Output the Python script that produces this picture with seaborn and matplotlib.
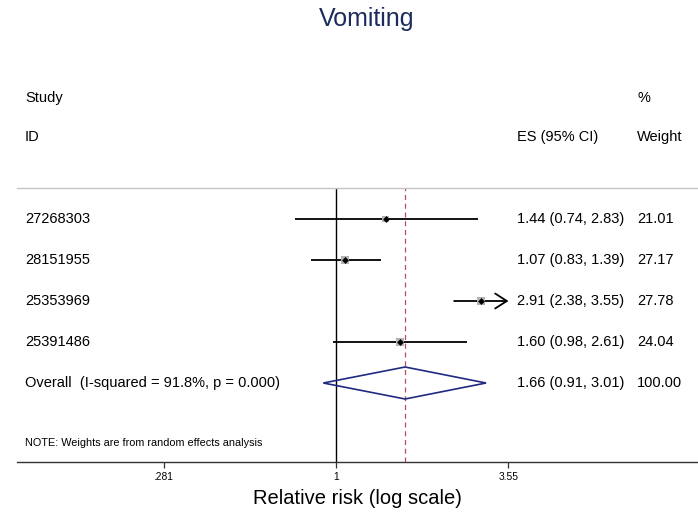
import numpy as np
import pandas as pd
import matplotlib
matplotlib.use("Agg")
import matplotlib.pyplot as plt
import matplotlib.transforms as mtransforms
from matplotlib.patches import Polygon
import seaborn as sns

study_ids = ["27268303", "28151955", "25353969", "25391486"]
es = [1.44, 1.07, 2.91, 1.60]
ci_low = [0.74, 0.83, 2.38, 0.98]
ci_high = [2.83, 1.39, 3.55, 2.61]
weights = [21.01, 27.17, 27.78, 24.04]

overall_es = 1.66
overall_low = 0.91
overall_high = 3.01
i_squared = 91.8
p_het = 0.000

tick_values = [0.281, 1, 3.55]
tick_labels = [".281", "1", "3.55"]

title = "Vomiting"
xlabel = "Relative risk (log scale)"
note = "NOTE: Weights are from random effects analysis"

sns.set_theme(style="white")
plt.rcParams["font.family"] = ["Liberation Sans", "DejaVu Sans"]
plt.rcParams["text.color"] = "black"
plt.rcParams["axes.labelcolor"] = "black"
plt.rcParams["xtick.color"] = "black"

W, H = 698, 515
fig = plt.figure(figsize=(W / 100, H / 100), dpi=100)

# area do grafico: da linha cinza (y=188) ao eixo (y=462)
ax_left, ax_right, ax_top, ax_bot = 17, 698, 188, 462
ax = fig.add_axes([ax_left / W, 1 - ax_bot / H, (ax_right - ax_left) / W, (ax_bot - ax_top) / H])

row0, row_step = 219, 41
def row_of(py):
    return (py - row0) / row_step

ax.set_xscale("log")
ax.set_xlim(0.0957, 14.3)
ax.set_ylim(row_of(ax_bot), row_of(ax_top))

df = pd.DataFrame({"id": study_ids, "es": es, "lo": ci_low, "hi": ci_high, "w": weights})
df["row"] = np.arange(len(df))
overall_row = len(df)

# linha de nulidade e linha do efeito combinado
ax.axvline(1, color="black", lw=1.0, zorder=1)
ax.axvline(overall_es, color="#b0505e", lw=0.9, ls=(0, (4, 3)), zorder=1)

# intervalos de confianca
max_tick = max(tick_values)
for _, r in df.iterrows():
    if r["hi"] >= max_tick:
        ax.annotate("", xy=(r["hi"], r["row"]), xytext=(r["lo"], r["row"]),
                    arrowprops=dict(arrowstyle="->,head_length=0.7,head_width=0.45",
                                    color="black", lw=1.3, shrinkA=0, shrinkB=0))
    else:
        ax.hlines(r["row"], r["lo"], r["hi"], color="black", lw=1.3, zorder=2)

# caixas de peso + ponto central
sns.scatterplot(data=df, x="es", y="row", size="w", sizes=(25, 33), marker="s",
                color="#b3b3b3", linewidth=0, legend=False, ax=ax, zorder=3)
sns.scatterplot(data=df, x="es", y="row", marker="D", s=12, color="black",
                linewidth=0, legend=False, ax=ax, zorder=4)

# diamante do efeito combinado
h = 16 / row_step
diamond = Polygon([(overall_low, overall_row), (overall_es, overall_row - h),
                   (overall_high, overall_row), (overall_es, overall_row + h)],
                  closed=True, fill=False, edgecolor="#1f2a80", lw=1.2, zorder=3)
ax.add_patch(diamond)

# eixos
for s in ["left", "right"]:
    ax.spines[s].set_visible(False)
ax.spines["top"].set_color("#c4c4c4")
ax.spines["top"].set_linewidth(1.0)
ax.spines["bottom"].set_color("#333333")
ax.spines["bottom"].set_linewidth(1.0)
ax.set_yticks([])
ax.set_xticks(tick_values)
ax.set_xticklabels(tick_labels)
ax.xaxis.set_minor_locator(matplotlib.ticker.NullLocator())
ax.tick_params(axis="x", bottom=True, direction="out", length=4.3, width=0.9,
               color="#333333", labelsize=7.4, pad=3.2)
ax.set_xlabel(xlabel, fontsize=14.5, labelpad=5)
ax.set_ylabel("")

# colunas de texto
trans = mtransforms.blended_transform_factory(fig.transFigure, ax.transData)
x_id, x_es, x_wt = 25 / W, 517 / W, 637 / W
fs = 10.5
txt = dict(transform=trans, fontsize=fs, va="center", ha="left", clip_on=False)

ax.text(x_id, row_of(98), "Study", **txt)
ax.text(x_id, row_of(137), "ID", **txt)
ax.text(x_wt, row_of(98), "%", **txt)
ax.text(x_wt, row_of(137), "Weight", **txt)
ax.text(x_es, row_of(137), "ES (95% CI)", **txt)

for _, r in df.iterrows():
    ax.text(x_id, r["row"], r["id"], **txt)
    ax.text(x_es, r["row"], f"{r['es']:.2f} ({r['lo']:.2f}, {r['hi']:.2f})", **txt)
    ax.text(x_wt, r["row"], f"{r['w']:.2f}", **txt)

ax.text(x_id, overall_row, f"Overall  (I-squared = {i_squared:.1f}%, p = {p_het:.3f})", **txt)
ax.text(x_es, overall_row, f"{overall_es:.2f} ({overall_low:.2f}, {overall_high:.2f})", **txt)
ax.text(x_wt, overall_row, f"{sum(weights):.2f}", **txt)

ax.text(x_id, row_of(443), note, transform=trans, fontsize=7.8, va="center", ha="left")

fig.text(367 / W, 1 - 19 / H, title, fontsize=18, color="#1c2c5c", ha="center", va="center")

fig.savefig("out.png", dpi=100)
